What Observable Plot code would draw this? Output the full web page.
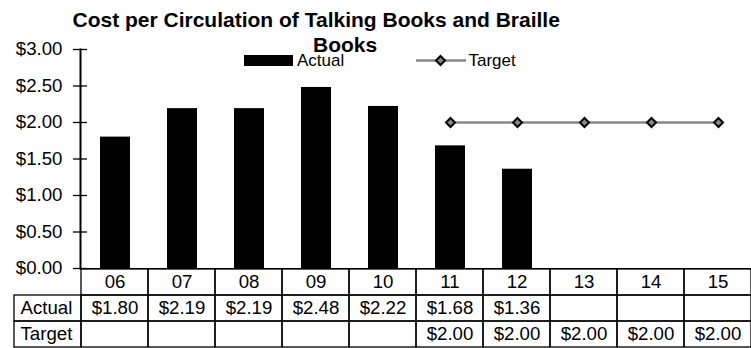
<!DOCTYPE html>
<html>
<head>
<meta charset="utf-8">
<script src="https://cdn.jsdelivr.net/npm/d3@7"></script>
<script src="https://cdn.jsdelivr.net/npm/@observablehq/plot@0.6"></script>
<style>
  body { margin: 0; background: #fff; }
  #wrap { position: relative; width: 751px; height: 348px; font-family: "Liberation Sans", Arial, sans-serif; overflow: hidden; }
  #wrap svg { position: absolute; left: 0; overflow: visible; }
  .title { position: absolute; font-weight: bold; font-size: 21px; line-height: 25px; white-space: nowrap; }
  .leg { position: absolute; font-size: 17px; line-height: 20px; white-space: nowrap; }
</style>
</head>
<body>
<div id="wrap"></div>
<script>
const categories = ["06", "07", "08", "09", "10", "11", "12", "13", "14", "15"];
const actualValues = [1.80, 2.19, 2.19, 2.48, 2.22, 1.68, 1.36, null, null, null];
const targetValues = [null, null, null, null, null, 2.00, 2.00, 2.00, 2.00, 2.00];
const yTicks = [0, 0.5, 1, 1.5, 2, 2.5, 3];
const rowLabels = ["Actual", "Target"];
const titleText = ["Cost per Circulation of Talking Books and Braille", "Books"];

const money = v => "$" + v.toFixed(2);
const actualData = categories.map((c, i) => ({cat: c, value: actualValues[i]})).filter(d => d.value != null);
const targetData = categories.map((c, i) => ({cat: c, value: targetValues[i]})).filter(d => d.value != null);

const FONT = "Liberation Sans, Arial, sans-serif";
const FS = 18.67;
const wrap = document.getElementById("wrap");

const chart = Plot.plot({
  width: 751, height: 348,
  marginLeft: 80, marginRight: 0, marginTop: 49, marginBottom: 80,
  style: {fontFamily: FONT, fontSize: FS + "px", background: "transparent", color: "black"},
  x: {domain: categories, range: [80, 753.3], paddingInner: 0.555, paddingOuter: 0.2775, axis: null},
  y: {domain: [0, 3], range: [268, 49], axis: null},
  marks: [
    Plot.barY(actualData, {x: "cat", y: "value", fill: "black"}),
    Plot.line(targetData, {x: "cat", y: "value", stroke: "#888888", strokeWidth: 2.5}),
    Plot.dot(targetData, {x: "cat", y: "value", symbol: "square", rotate: 45, r: 3.6, fill: "#888888", stroke: "black", strokeWidth: 2}),
    Plot.ruleY([0], {stroke: "black", strokeWidth: 1.2}),
    Plot.frame({anchor: "left", stroke: "black", strokeWidth: 2}),
    Plot.ruleY(yTicks, {y: d => d, dx: -7, insetRight: 657, stroke: "black", strokeWidth: 1.3}),
    Plot.axisY({ticks: yTicks, tickSize: 0, tickPadding: 18, tickFormat: money, label: null, fill: "black", fontSize: FS})
  ]
});
chart.style.top = "0px";
wrap.appendChild(chart);

// data table under the chart
const cols = ["", ...categories];
const rows = ["cat", ...rowLabels];
const cells = [];
categories.forEach(c => cells.push({col: c, row: "cat", text: c}));
rowLabels.forEach(r => cells.push({col: "", row: r, text: r}));
categories.forEach((c, i) => {
  cells.push({col: c, row: "Actual", text: actualValues[i] == null ? "" : money(actualValues[i])});
  cells.push({col: c, row: "Target", text: targetValues[i] == null ? "" : money(targetValues[i])});
});

const table = Plot.plot({
  width: 751, height: 80,
  margin: 0,
  style: {fontFamily: FONT, fontSize: FS + "px", background: "transparent", color: "black"},
  x: {domain: cols, range: [12.7, 753.3], padding: 0, axis: null},
  y: {domain: rows, range: [0, 79], padding: 0, axis: null},
  marks: [
    Plot.cell(cells, {x: "col", y: "row", fill: "none", stroke: "black", strokeWidth: 1.3}),
    Plot.text(cells.filter(d => d.col !== ""), {x: "col", y: "row", text: "text", fill: "black", fontSize: FS}),
    Plot.text(cells.filter(d => d.col === ""), {x: "col", y: "row", text: "text", fill: "black", fontSize: FS, textAnchor: "start", dx: -27.5})
  ]
});
table.style.top = "268px";
wrap.appendChild(table);

// title
const t1 = document.createElement("div");
t1.className = "title"; t1.textContent = titleText[0];
t1.style.left = "72.5px"; t1.style.top = "7px";
wrap.appendChild(t1);
const t2 = document.createElement("div");
t2.className = "title"; t2.textContent = titleText[1];
t2.style.left = "313px"; t2.style.top = "32px";
wrap.appendChild(t2);

// legend
const legA = document.createElement("div");
legA.className = "leg";
legA.style.left = "244px"; legA.style.top = "51px";
legA.innerHTML = '<span style="display:inline-block;width:49px;height:11px;background:#000;vertical-align:middle;margin-right:4px;position:relative;top:-1px"></span>Actual';
wrap.appendChild(legA);
const legT = document.createElement("div");
legT.className = "leg";
legT.style.left = "415.5px"; legT.style.top = "51px";
legT.innerHTML = '<svg width="50" height="13" style="position:relative;vertical-align:middle;margin-right:3px;top:-1px"><line x1="0" y1="6.5" x2="50" y2="6.5" stroke="#888888" stroke-width="2.5"/><path d="M24.5,2L29,6.5L24.5,11L20,6.5Z" fill="#888888" stroke="#000" stroke-width="2"/></svg>Target';
wrap.appendChild(legT);
</script>
</body>
</html>
